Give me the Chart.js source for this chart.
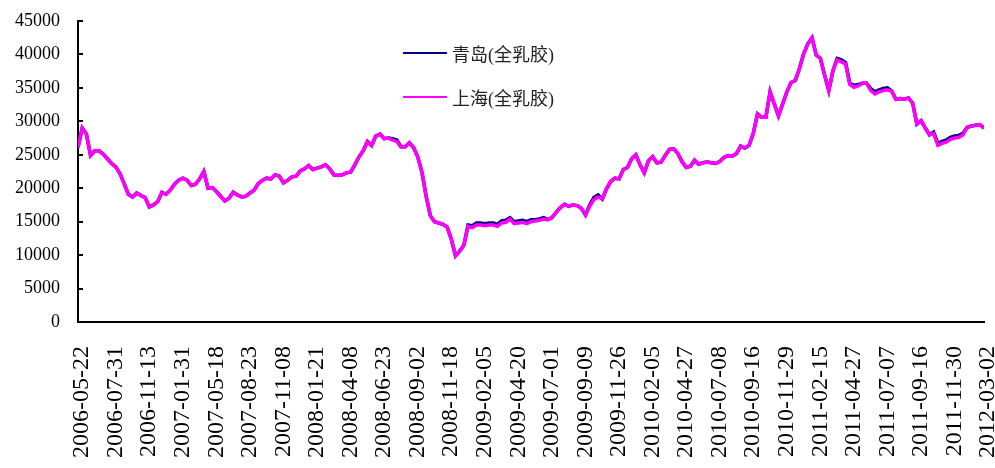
<!DOCTYPE html>
<html>
<head>
<meta charset="utf-8">
<script src="https://cdn.jsdelivr.net/npm/chart.js@4.4.1/dist/chart.umd.min.js"></script>
<style>
  html, body { margin: 0; padding: 0; background: #fff; }
  #wrap { width: 995px; height: 468px; }
</style>
</head>
<body>
<div id="wrap"><canvas id="chart" width="995" height="468"></canvas></div>
<script>
// tick labels on the x axis (one every 8 samples)
const dateLabels = [
  '2006-05-22', '2006-07-31', '2006-11-13', '2007-01-31', '2007-05-18', '2007-08-23', '2007-11-08',
  '2008-01-21', '2008-04-08', '2008-06-23', '2008-09-02', '2008-11-18', '2009-02-05', '2009-04-20',
  '2009-07-01', '2009-09-09', '2009-11-26', '2010-02-05', '2010-04-27', '2010-07-08', '2010-09-16',
  '2010-11-29', '2011-02-15', '2011-04-27', '2011-07-07', '2011-09-16', '2011-11-30', '2012-03-02'
];
const STEP = 8; // samples between two date labels

const seriesNames = ['青岛(全乳胶)', '上海(全乳胶)'];

// 上海(全乳胶)
const shanghai = [
  26100, 29000, 28100, 24900, 25600, 25600, 25100, 24400, 23700, 23200,
  22200, 20700, 19100, 18700, 19300, 18900, 18600, 17200, 17500, 18000,
  19400, 19100, 19700, 20600, 21200, 21500, 21200, 20400, 20600, 21400,
  22500, 20000, 20100, 19500, 18800, 18100, 18500, 19400, 19000, 18700,
  18800, 19300, 19700, 20700, 21200, 21500, 21400, 22000, 21800, 20800,
  21200, 21700, 21800, 22600, 22900, 23400, 22800, 23000, 23200, 23500,
  22900, 22000, 21900, 22000, 22300, 22400, 23500, 24700, 25600, 27000,
  26400, 27800, 28100, 27400, 27500, 27200, 27000, 26200, 26200, 26800,
  26100, 24700, 22400, 18800, 15900, 15000, 14800, 14600, 14200, 12400,
  9900, 10600, 11500, 14300, 14100, 14500, 14500, 14400, 14500, 14500,
  14300, 14800, 14900, 15400, 14700, 14800, 14900, 14700, 15000, 15100,
  15200, 15400, 15300, 15600, 16400, 17100, 17600, 17300, 17500, 17400,
  17000, 16000, 17300, 18300, 18700, 18400, 19900, 21000, 21500, 21400,
  22800, 23100, 24400, 25000, 23500, 22300, 24100, 24700, 23800, 23900,
  24900, 25800, 25900, 25200, 24000, 23100, 23300, 24200, 23600, 23800,
  23900, 23800, 23700, 24000, 24600, 24900, 24800, 25200, 26300, 26000,
  26400, 28200, 31100, 30600, 30600, 34400, 32600, 30800, 32600, 34400,
  35800, 36100, 37900, 40100, 41600, 42500, 39900, 39400, 36900, 34600,
  37600, 39200, 38900, 38600, 35500, 35100, 35300, 35700, 35700, 34600,
  34100, 34400, 34600, 34700, 34500, 33300, 33400, 33300, 33500, 32700,
  29600, 30100, 29000, 28000, 28200, 26400, 26700, 26900, 27300, 27500,
  27600, 28000, 29100, 29300, 29400, 29500, 29000
];

// 青岛(全乳胶)
const qingdao = [
  26100, 29000, 28100, 24900, 25600, 25600, 25100, 24400, 23700, 23200,
  22200, 20700, 19100, 18700, 19300, 18900, 18600, 17200, 17500, 18000,
  19400, 19100, 19700, 20600, 21200, 21500, 21200, 20400, 20600, 21400,
  22500, 20000, 20100, 19500, 18800, 18100, 18500, 19400, 19000, 18700,
  18800, 19300, 19700, 20700, 21200, 21500, 21400, 22000, 21800, 20800,
  21200, 21700, 21800, 22600, 22900, 23400, 22800, 23000, 23200, 23500,
  22900, 22000, 21900, 22000, 22300, 22400, 23500, 24700, 25600, 27000,
  26400, 27800, 28100, 27400, 27500, 27400, 27200, 26200, 26200, 26800,
  26100, 24700, 22400, 18800, 15900, 15000, 14800, 14600, 14200, 12400,
  9900, 10600, 11500, 14500, 14400, 14800, 14800, 14700, 14800, 14800,
  14600, 15100, 15200, 15600, 15000, 15100, 15200, 15000, 15300, 15300,
  15400, 15600, 15300, 15600, 16400, 17100, 17600, 17300, 17500, 17400,
  17000, 16000, 17500, 18600, 19000, 18400, 19900, 21000, 21500, 21400,
  22800, 23100, 24400, 25000, 23500, 22300, 24100, 24700, 23800, 23900,
  24900, 25800, 25900, 25200, 24000, 23100, 23300, 24200, 23600, 23800,
  23900, 23800, 23700, 24000, 24600, 24900, 24800, 25200, 26300, 26000,
  26400, 28200, 31100, 30600, 30600, 34400, 32600, 30800, 32600, 34400,
  35800, 36100, 37900, 40100, 41600, 42500, 39900, 39400, 36900, 34600,
  37600, 39400, 39200, 38800, 35700, 35400, 35500, 35700, 35700, 34900,
  34400, 34700, 34900, 35000, 34500, 33300, 33400, 33300, 33500, 32700,
  29600, 30100, 29000, 28000, 28400, 26700, 27000, 27200, 27600, 27800,
  27900, 28200, 29100, 29300, 29400, 29500, 29000
];

const serif = '"Liberation Serif", "Noto Sans CJK SC", serif';

// y ticks point inward, like the original
const innerTicks = {
  id: 'innerTicks',
  afterDraw(chart) {
    const y = chart.scales.y;
    const ctx = chart.ctx;
    ctx.save();
    ctx.strokeStyle = '#000';
    ctx.lineWidth = 2;
    y.ticks.forEach(t => {
      const py = Math.round(y.getPixelForValue(t.value));
      ctx.beginPath();
      ctx.moveTo(y.right, py);
      ctx.lineTo(y.right + 5, py);
      ctx.stroke();
    });
    ctx.restore();
  }
};

// legend inside the plot
const legendBox = {
  id: 'legendBox',
  afterDraw(chart) {
    const ctx = chart.ctx;
    ctx.save();
    ctx.font = '18px ' + serif;
    ctx.textBaseline = 'middle';
    ctx.textAlign = 'left';
    const rows = [{ y: 53 }, { y: 97 }];
    chart.data.datasets.forEach((ds, i) => {
      const r = rows[i];
      ctx.strokeStyle = ds.borderColor;
      ctx.lineWidth = 2;
      ctx.beginPath();
      ctx.moveTo(403, r.y);
      ctx.lineTo(447, r.y);
      ctx.stroke();
      ctx.fillStyle = '#222';
      ctx.fillText(ds.label, 452, r.y + 3);
    });
    ctx.restore();
  }
};

new Chart(document.getElementById('chart'), {
  type: 'line',
  data: {
    datasets: [
      {
        label: seriesNames[0],
        data: qingdao.map((v, i) => ({ x: i / STEP, y: v })),
        borderColor: '#000080',
        borderWidth: 3.5,
        pointRadius: 0,
        tension: 0,
        order: 2
      },
      {
        label: seriesNames[1],
        data: shanghai.map((v, i) => ({ x: i / STEP, y: v })),
        borderColor: '#FF00FF',
        borderWidth: 3.5,
        pointRadius: 0,
        tension: 0,
        order: 1
      }
    ]
  },
  options: {
    responsive: false,
    animation: false,
    devicePixelRatio: 1,
    layout: { padding: { top: 21, right: 11, left: 0, bottom: 0 } },
    plugins: {
      legend: { display: false },
      tooltip: { enabled: false }
    },
    scales: {
      x: {
        type: 'linear',
        min: 0,
        max: dateLabels.length - 1,
        grid: { display: false },
        border: { display: true, color: '#000', width: 2 },
        afterFit: s => { s.height = 146; s.paddingLeft = 0; s.paddingRight = 0; },
        ticks: {
          stepSize: 1,
          autoSkip: false,
          maxTicksLimit: 40,
          maxRotation: 90,
          minRotation: 90,
          padding: 16,
          labelOffset: 4,
          color: '#000',
          font: { family: serif, size: 24 },
          callback: v => dateLabels[v]
        }
      },
      y: {
        min: 0,
        max: 45000,
        grid: { display: false },
        border: { display: true, color: '#000', width: 2 },
        afterFit: s => { s.width = 78; s.paddingTop = 0; s.paddingBottom = 0; },
        ticks: {
          stepSize: 5000,
          padding: 10,
          color: '#000',
          font: { family: serif, size: 18 },
          callback: v => String(v)
        }
      }
    }
  },
  plugins: [innerTicks, legendBox]
});
</script>
</body>
</html>
